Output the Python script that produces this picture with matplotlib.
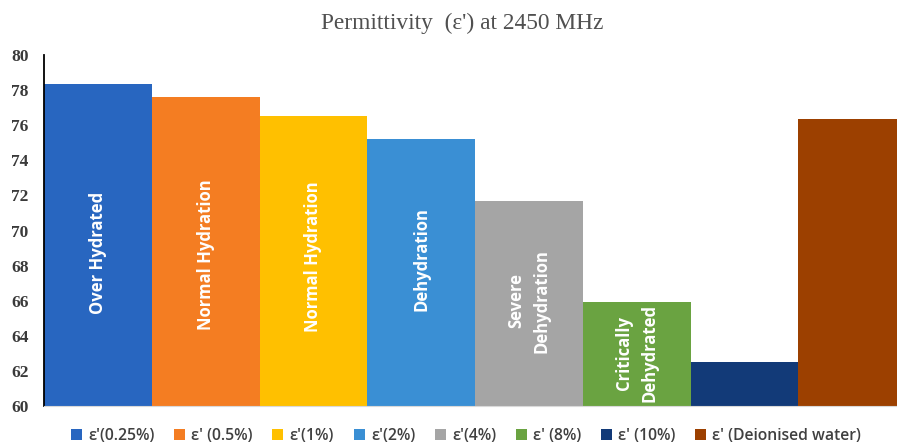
import matplotlib
matplotlib.use("Agg")
import matplotlib.pyplot as plt
from matplotlib.patches import Patch

# Permittivity of each sample at 2450 MHz
series = ["ε'(0.25%)", "ε' (0.5%)", "ε'(1%)", "ε'(2%)",
          "ε'(4%)", "ε' (8%)", "ε' (10%)", "ε' (Deionised water)"]
values = [78.35, 77.6, 76.5, 75.2, 71.7, 65.9, 62.5, 76.35]
bar_labels = ["Over Hydrated", "Normal Hydration", "Normal Hydration",
              "Dehydration", "Severe\nDehydration", "Critically\nDehydrated", "", ""]
label_y = [68.7, 68.6, 68.5, 68.4, 66.0, 63.0, None, None]
colors = ["#2866C0", "#F47D22", "#FFC000", "#3A8FD4",
          "#A5A5A5", "#6AA341", "#123A78", "#9C4000"]

fig = plt.figure(figsize=(8.97, 4.48), dpi=100)
ax = fig.add_axes([44 / 897, (448 - 406) / 448, 862 / 897, 351 / 448])

x = list(range(len(values)))
ax.bar(x, [v - 60 for v in values], bottom=60, width=1.0, color=colors,
       align="edge", linewidth=0)

for i, (txt, yy) in enumerate(zip(bar_labels, label_y)):
    if txt:
        ax.text(i + 0.5, yy, txt, rotation=90, ha="center", va="center",
                color="white", fontsize=12, fontweight="bold",
                family="Open Sans", linespacing=1.55)

ax.set_xlim(0, 8)
ax.set_ylim(60, 80)
ax.set_yticks(range(60, 81, 2))
for lab in ax.get_yticklabels():
    lab.set_family("Liberation Serif")
    lab.set_fontweight("bold")
    lab.set_fontsize(12.5)
    lab.set_color("#3A3A3A")
ax.tick_params(axis="y", length=0, pad=11)
ax.set_xticks([])
ax.spines["top"].set_visible(False)
ax.spines["right"].set_visible(False)
ax.spines["left"].set_color("black")
ax.spines["left"].set_linewidth(1.3)
ax.spines["bottom"].set_color("#D9D9D9")

fig.text(462 / 897, 1 - 23 / 448, "Permittivity  (ε') at 2450 MHz", ha="center",
         va="center", family="Liberation Serif", fontsize=16.8, color="#505050")

handles = [Patch(facecolor=c, label=s) for c, s in zip(colors, series)]
fig.legend(handles=handles, loc="center", bbox_to_anchor=(466 / 897, 1 - 436 / 448),
           ncol=8, frameon=False, handlelength=0.7, handleheight=0.7,
           handletextpad=0.4, columnspacing=1.25,
           prop={"family": "Open Sans", "size": 11.3, "weight": "semibold"},
           labelcolor="#404040")

fig.savefig("out.png", dpi=100)
